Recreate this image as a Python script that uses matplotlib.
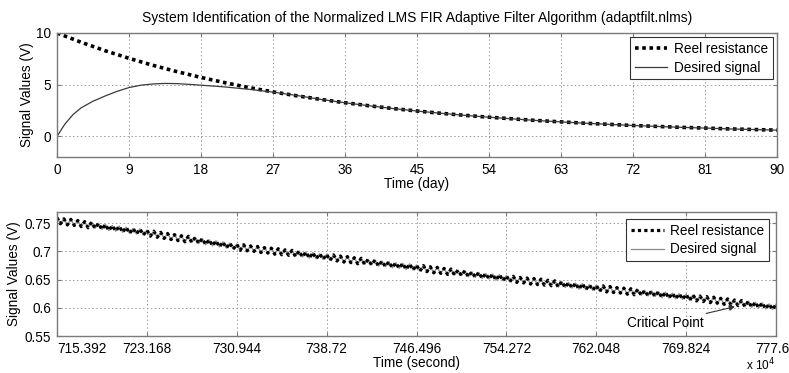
import numpy as np
import matplotlib
matplotlib.use("Agg")
import matplotlib.pyplot as plt
import matplotlib.transforms as mtransforms

plt.rcParams['font.family'] = ['Liberation Sans', 'DejaVu Sans']

# ---------------- data: top panel ----------------
days = [0, 3, 6, 9, 12, 15, 18, 21, 24, 27, 30, 33, 36, 39, 42, 45, 48, 51,
        54, 57, 60, 63, 66, 69, 72, 75, 78, 81, 84, 87, 90]
reel_top = [10.0, 9.11, 8.29, 7.55, 6.87, 6.26, 5.70, 5.19, 4.72, 4.30, 3.92,
            3.57, 3.25, 2.96, 2.69, 2.45, 2.23, 2.03, 1.85, 1.69, 1.53, 1.40,
            1.27, 1.16, 1.05, 0.96, 0.87, 0.80, 0.72, 0.66, 0.60]
desired_days = [0, 1, 2, 3, 4.5, 6, 7.5, 9, 10.5, 12, 13.5, 15, 16.5, 18, 21,
                24, 27, 30, 33, 36, 39, 42, 45, 48, 51, 54, 57, 60, 63, 66,
                69, 72, 75, 78, 81, 84, 87, 90]
desired_top = [0.0, 1.2, 2.1, 2.75, 3.4, 3.9, 4.35, 4.72, 4.95, 5.07, 5.12,
               5.1, 5.03, 4.95, 4.78, 4.55, 4.28, 3.95, 3.57, 3.25, 2.96, 2.69,
               2.45, 2.23, 2.03, 1.85, 1.69, 1.53, 1.40, 1.27, 1.16, 1.05,
               0.96, 0.87, 0.80, 0.72, 0.66, 0.60]
top_xticks = [0, 9, 18, 27, 36, 45, 54, 63, 72, 81, 90]
top_yticks = [0, 5, 10]

# ---------------- data: bottom panel (values in mV) ----------------
t_start, t_end = 7153920, 7776000
bottom_mv = [
    760, 749, 758, 747, 757, 746, 755, 744, 753, 742, 752, 741, 750, 739, 748, 737, 746, 736, 745, 734, 743, 732, 741, 731, 740, 729,
    738, 727, 736, 725, 734, 723, 732, 721, 730, 719, 728, 717, 727, 716, 725, 714, 723, 712, 721, 710, 719, 708, 717, 706, 715, 704,
    713, 702, 712, 701, 710, 700, 709, 698, 707, 697, 706, 695, 705, 694, 703, 693, 702, 691, 701, 690, 699, 688, 698, 687, 696, 686,
    695, 684, 694, 683, 692, 681, 691, 680, 689, 678, 688, 677, 686, 676, 685, 674, 683, 673, 682, 671, 680, 670, 679, 668, 678, 667,
    676, 665, 675, 664, 673, 662, 672, 661, 670, 659, 669, 658, 667, 657, 666, 655, 664, 654, 663, 652, 661, 651, 660, 649, 659, 648,
    657, 646, 656, 645, 654, 644, 653, 642, 652, 641, 651, 640, 649, 639, 648, 637, 647, 636, 645, 635, 644, 633, 643, 632, 641, 631,
    640, 629, 639, 628, 638, 627, 636, 626, 635, 624, 634, 623, 633, 622, 631, 621, 630, 620, 629, 618, 628, 617, 626, 616, 625, 615,
    624, 613, 623, 612, 621, 611, 620, 609, 619, 608, 617, 606, 616, 605, 614, 604, 613, 602, 612, 601, 610, 600, 609, 598, 607, 597,
    606]
bottom_xticks = [7153920, 7231680, 7309440, 7387200, 7464960, 7542720, 7620480, 7698240, 7776000]
bottom_xlabels = ['715.392', '723.168', '730.944', '738.72', '746.496', '754.272', '762.048', '769.824', '777.6']
bottom_yticks = [0.55, 0.6, 0.65, 0.7, 0.75]
bottom_ylabels = ['0.55', '0.6', '0.65', '0.7', '0.75']

bottom_vals = np.array(bottom_mv) / 1000.0
t_bottom = np.linspace(t_start, t_end, len(bottom_vals))

W, H = 789, 373
fig = plt.figure(figsize=(W / 100, H / 100), dpi=100)

def px_axes(l, t, r, b):
    return fig.add_axes([l / W, 1 - b / H, (r - l) / W, (b - t) / H])

ax1 = px_axes(57, 33, 777, 157)
ax2 = px_axes(57, 212, 776, 336)

edge = '#7a7a7a'
fs = 9.8
for ax in (ax1, ax2):
    for s in ax.spines.values():
        s.set_color(edge)
        s.set_linewidth(1.0)
    ax.tick_params(direction='in', length=3, color=edge, labelsize=fs,
                   top=True, right=True)
    ax.tick_params(axis='x', pad=4)
    ax.tick_params(axis='y', pad=4)
    ax.grid(True, linestyle=(0, (1.5, 2.5)), color='#9a9a9a', linewidth=0.7)
    ax.set_axisbelow(True)

leg_kw = dict(loc='upper right', fontsize=fs, frameon=True, fancybox=False,
              edgecolor='#333333', framealpha=1, borderpad=0.35,
              handlelength=2.4, handletextpad=0.5, labelspacing=0.35)

# top panel
ax1.plot(days, reel_top, color='black', linestyle=(0, (1, 1)), linewidth=2.6,
         label='Reel resistance')
ax1.plot(desired_days, desired_top, color='#3a3a3a', linewidth=0.9, label='Desired signal')
ax1.set_xlim(0, 90)
ax1.set_ylim(-2, 10)
ax1.set_xticks(top_xticks)
ax1.set_yticks(top_yticks)
ax1.set_xlabel('Time (day)', fontsize=fs, labelpad=0)
ax1.set_ylabel('Signal Values (V)', fontsize=fs, labelpad=2)
ax1.set_title('System Identification of the Normalized LMS FIR Adaptive Filter Algorithm (adaptfilt.nlms)',
              fontsize=10, pad=8)
leg1 = ax1.legend(borderaxespad=0.3, **leg_kw)
leg1.get_frame().set_linewidth(0.8)

# bottom panel
ax2.plot(t_bottom, bottom_vals, color='#8a8a8a', linewidth=1.0, label='_nolegend_')
ax2.plot(t_bottom, bottom_vals, color='black', linestyle=(0, (1, 1)), linewidth=2.3,
         label='Reel resistance')
ax2.plot([], [], color='#8a8a8a', linewidth=0.9, label='Desired signal')
ax2.set_xlim(t_start, t_end)
ax2.set_ylim(0.55, 0.77)
ax2.set_xticks(bottom_xticks)
ax2.set_xticklabels(bottom_xlabels)
ax2.set_yticks(bottom_yticks)
ax2.set_yticklabels(bottom_ylabels)
ax2.set_xlabel('Time (second)', fontsize=fs, labelpad=0)
ax2.set_ylabel('Signal Values (V)', fontsize=fs, labelpad=3)
leg2 = ax2.legend(borderaxespad=0.5, **leg_kw)
leg2.get_frame().set_linewidth(0.8)

xt = ax2.get_xticklabels()
xt[0].set_horizontalalignment('left')
xt[-1].set_transform(xt[-1].get_transform() +
                     mtransforms.ScaledTranslation(-4 / 100, 0, fig.dpi_scale_trans))

ax2.annotate('Critical Point', xy=(7740500, 0.602), xytext=(7680000, 0.573),
             fontsize=fs, ha='center', va='center',
             arrowprops=dict(arrowstyle='-|>', color='#333333', lw=0.8,
                             mutation_scale=8, shrinkA=0, shrinkB=0))
fig.text(761 / W, 1 - 365 / H, r'x 10$^4$', fontsize=8.5, ha='center', va='center')

fig.savefig('out.png', dpi=100)
